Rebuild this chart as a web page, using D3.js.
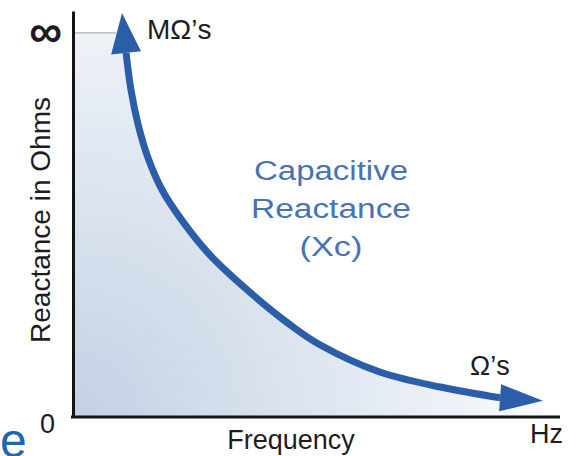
<!DOCTYPE html>
<html>
<head>
<meta charset="utf-8">
<script src="https://cdn.jsdelivr.net/npm/d3@7"></script>
<style>
  html, body { margin: 0; padding: 0; background: #ffffff; }
  svg { display: block; }
  text { font-family: "Liberation Sans", Arial, sans-serif; }
</style>
</head>
<body>
<svg id="chart" width="576" height="456"></svg>
<script>
// Capacitive reactance falls as frequency rises (schematic, axis units in %; 100 = ∞)
const frequency = [10.9, 11.9, 13.4, 15.4, 18.3, 22.6, 28.1, 35.3, 44.6, 50.7, 63.0, 75.4, 87.7];
const reactance = [94.8, 85.2, 76.0, 67.5, 59.1, 50.8, 42.2, 33.6, 24.0, 18.8, 11.7, 7.8, 5.0];

// Arrow tips at both ends of the curve
const tipFrequency = [10.06, 96.5];
const tipReactance = [105.2, 4.2];

// Axis tick values and labels
const yTicks = [0, 100];
const yTickLabels = ["0", "\u221E"];
const xTicks = [100];
const xTickLabels = ["Hz"];

// Annotations
const titleLines = ["Capacitive", "Reactance", "(Xc)"];
const highLabel = "M\u03A9\u2019s";
const lowLabel = "\u03A9\u2019s";

const svg = d3.select("#chart");
const x = d3.scaleLinear().domain([0, 100]).range([73, 560]);
const y = d3.scaleLinear().domain([0, 105.7]).range([417, 11]);

// Radial shading under the curve, darkest at the origin
const defs = svg.append("defs");
const grad = defs.append("radialGradient")
  .attr("id", "areaShade")
  .attr("gradientUnits", "userSpaceOnUse")
  .attr("cx", x(0)).attr("cy", y(0)).attr("r", 480);
grad.append("stop").attr("offset", "0").attr("stop-color", "#c3d0e4");
grad.append("stop").attr("offset", "0.45").attr("stop-color", "#dbe3ee");
grad.append("stop").attr("offset", "0.8").attr("stop-color", "#eef2f8");
grad.append("stop").attr("offset", "1").attr("stop-color", "#fbfcfe");

const pts = frequency.map((f, i) => [x(f), y(reactance[i])]);
const line = d3.line().curve(d3.curveCatmullRom.alpha(0.5));
const curvePath = line(pts);

// Area under the curve, capped at the ∞ level
const areaPath = `M${x(0)},${y(0)}L${x(0)},${y(100)}L${pts[0][0]},${y(100)}L`
  + curvePath.slice(1)
  + `L${x(tipFrequency[1])},${pts[pts.length - 1][1]}L${x(tipFrequency[1])},${y(0)}Z`;
svg.append("path").attr("d", areaPath).attr("fill", "url(#areaShade)");

// Thin edge along the top of the shaded area
svg.append("line")
  .attr("x1", x(0)).attr("x2", pts[0][0] - 10)
  .attr("y1", y(100)).attr("y2", y(100))
  .attr("stroke", "#9d9d9d").attr("stroke-width", 1);

// Axes
const yAxis = d3.axisLeft(y).tickValues(yTicks)
  .tickFormat((d, i) => yTickLabels[i]).tickSize(0).tickSizeOuter(0).tickPadding(12);
const xAxis = d3.axisBottom(x).tickValues(xTicks)
  .tickFormat((d, i) => xTickLabels[i]).tickSize(0).tickSizeOuter(0).tickPadding(7);

const gy = svg.append("g").attr("transform", `translate(${x(0)},0)`).call(yAxis);
const gx = svg.append("g").attr("transform", `translate(0,${y(0)})`).call(xAxis);
gx.select(".domain").attr("d", `M${x(0) - 2},0H${x(100)}`);
[gx, gy].forEach(g => {
  g.select(".domain").attr("stroke", "#141414").attr("stroke-width", 3);
  g.selectAll(".tick text").attr("fill", "#1e1c1e")
    .style("font-family", "'Liberation Sans', Arial, sans-serif");
});
gy.selectAll(".tick text").each(function (d) {
  const t = d3.select(this);
  if (d === 0) {
    t.attr("x", -18).attr("dy", "15").style("font-size", "27px");
  } else {
    t.attr("x", -11).attr("dy", "14").style("font-size", "46px").style("font-weight", "bold");
  }
});
gx.selectAll(".tick text").attr("dx", -14).style("font-size", "27px");

// Axis titles
svg.append("text")
  .attr("x", 291).attr("y", 449)
  .attr("text-anchor", "middle").attr("fill", "#1e1c1e")
  .style("font-size", "27px").text("Frequency");
svg.append("text")
  .attr("transform", "translate(50,220) rotate(-90)")
  .attr("text-anchor", "middle").attr("fill", "#1e1c1e")
  .style("font-size", "28px").text("Reactance in Ohms");

// Curve and arrowheads
const arrowColor = "#2b5ea9";
svg.append("path").attr("d", curvePath)
  .attr("fill", "none").attr("stroke", arrowColor)
  .attr("stroke-width", 7).attr("stroke-linecap", "butt");

function arrowHead(tip, base, halfWidth) {
  const dx = tip[0] - base[0], dy = tip[1] - base[1];
  const len = Math.hypot(dx, dy);
  const nx = -dy / len, ny = dx / len;
  return [tip, [base[0] + nx * halfWidth, base[1] + ny * halfWidth],
          [base[0] - nx * halfWidth, base[1] - ny * halfWidth]];
}
const headTop = arrowHead([x(tipFrequency[0]), y(tipReactance[0])], pts[0], 15);
const headBottom = arrowHead([x(tipFrequency[1]), y(tipReactance[1])], pts[pts.length - 1], 13.5);
[headTop, headBottom].forEach(h => {
  svg.append("path").attr("d", "M" + h.join("L") + "Z").attr("fill", arrowColor);
});

// End labels
svg.append("text").attr("x", 147).attr("y", 39)
  .attr("fill", "#1e1c1e").style("font-size", "28px").text(highLabel);
svg.append("text").attr("x", 470).attr("y", 375)
  .attr("fill", "#1e1c1e").style("font-size", "27px").text(lowLabel);

// Curve title
const titleWidths = [154, 160, 63];
const titleBase = [180, 218, 256];
titleLines.forEach((s, i) => {
  svg.append("text")
    .attr("x", 331).attr("y", titleBase[i])
    .attr("text-anchor", "middle")
    .attr("textLength", titleWidths[i]).attr("lengthAdjust", "spacingAndGlyphs")
    .attr("fill", "#4773b6").style("font-size", "27px").text(s);
});

// Partial heading letter at the lower-left edge
svg.append("text").attr("x", 0).attr("y", 457)
  .attr("fill", "#2164b2").style("font-size", "48px").text("e");
</script>
</body>
</html>
